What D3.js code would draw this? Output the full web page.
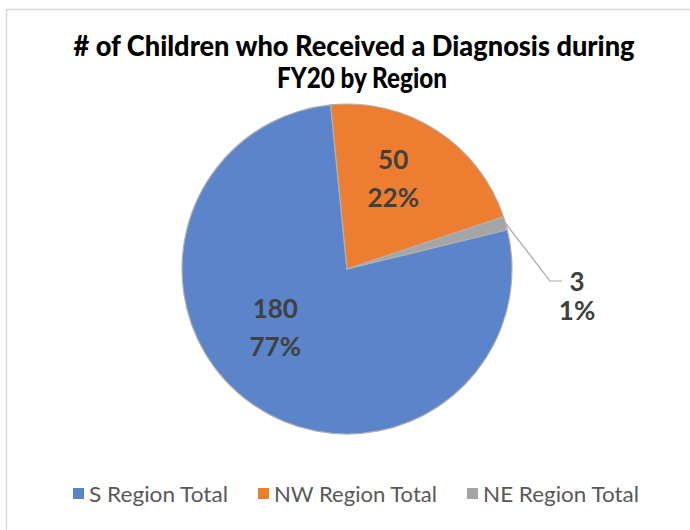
<!DOCTYPE html>
<html><head><meta charset="utf-8">
<script src="https://cdn.jsdelivr.net/npm/d3@7"></script>
<style>body{margin:0;background:#fff}svg{display:block}</style>
</head><body>
<svg id="c" width="690" height="530"></svg>
<script>
const titleLines = ["# of Children who Received a Diagnosis during", "FY20 by Region"];
const categories = ["S Region Total", "NW Region Total", "NE Region Total"];
const values = [180, 50, 3];
const percentLabels = ["77%", "22%", "1%"];
const colors = ["#5B84CB", "#ED7D31", "#A5A5A5"];

const svg = d3.select("#c");
const FONT = "Lato, 'Open Sans', sans-serif";

// chart border
svg.append("rect").attr("x", 6.5).attr("y", 9.5).attr("width", 700).attr("height", 540)
  .attr("fill", "#fff").attr("stroke", "#d9d9d9").attr("stroke-width", 1.5);

function fitText(sel, target) {
  sel.attr("textLength", target).attr("lengthAdjust", "spacingAndGlyphs");
}
// title
const t1 = svg.append("text").attr("x", 354).attr("y", 56).attr("text-anchor", "middle")
  .attr("font-family", FONT).attr("font-weight", 900).attr("font-size", 28).attr("fill", "#000").text(titleLines[0]);
fitText(t1, 561);
const t2 = svg.append("text").attr("x", 362).attr("y", 88).attr("text-anchor", "middle")
  .attr("font-family", FONT).attr("font-weight", 900).attr("font-size", 28).attr("fill", "#000").text(titleLines[1]);
fitText(t2, 170);

// pie
const cx = 347, cy = 269, R = 165;
const start = 76.2 * Math.PI / 180;
const pie = d3.pie().sort(null).startAngle(start).endAngle(start + 2 * Math.PI);
const arcs = pie(values);
const arc = d3.arc().innerRadius(0).outerRadius(R);
const g = svg.append("g").attr("transform", `translate(${cx},${cy})`);
g.selectAll("path").data(arcs).join("path")
  .attr("d", arc).attr("fill", (d, i) => colors[i])
  .attr("stroke", "#b0b0b0").attr("stroke-width", 1.2).attr("stroke-linejoin", "round");

// inside labels
const labelShift = [16, -6, 0]; // degrees, mimic Excel best-fit placement
const labelR = [92, 102, 0];
const LFS = 26;
arcs.forEach((d, i) => {
  if (i === 2) return;
  const a = (d.startAngle + d.endAngle) / 2 + labelShift[i] * Math.PI / 180;
  const x = Math.sin(a) * labelR[i], y = -Math.cos(a) * labelR[i];
  const tg = g.append("text").attr("text-anchor", "middle").attr("font-family", FONT)
    .attr("font-weight", 700).attr("font-size", LFS).attr("fill", "#404040");
  tg.append("tspan").attr("x", x).attr("y", y - 9).text(values[i]);
  tg.append("tspan").attr("x", x).attr("y", y + 29).text(percentLabels[i]);
});

// outside label with leader for NE
{
  const d = arcs[2];
  const a = (d.startAngle + d.endAngle) / 2;
  const p0 = [Math.sin(a) * R, -Math.cos(a) * R];
  const elbow = [203, 281 - cy];
  g.append("polyline")
    .attr("points", [p0, elbow, [elbow[0] + 12, elbow[1]]].map(p => p.join(",")).join(" "))
    .attr("fill", "none").attr("stroke", "#a6a6a6").attr("stroke-width", 1.2);
  const tg = g.append("text").attr("text-anchor", "middle").attr("font-family", FONT)
    .attr("font-weight", 700).attr("font-size", LFS).attr("fill", "#404040");
  tg.append("tspan").attr("x", elbow[0] + 27).attr("y", elbow[1] + 10).text(values[2]);
  tg.append("tspan").attr("x", elbow[0] + 27).attr("y", elbow[1] + 39).text(percentLabels[2]);
}

// legend
const legendX = [73, 258, 467];
const legendW = [139, 163, 156];
const lg = svg.append("g");
categories.forEach((c, i) => {
  lg.append("rect").attr("x", legendX[i]).attr("y", 488).attr("width", 11).attr("height", 11).attr("fill", colors[i]);
  const t = lg.append("text").attr("x", legendX[i] + 16).attr("y", 502).attr("font-family", FONT)
    .attr("font-size", 21).attr("fill", "#595959").text(c);
  fitText(t, legendW[i]);
});
</script>
</body></html>
